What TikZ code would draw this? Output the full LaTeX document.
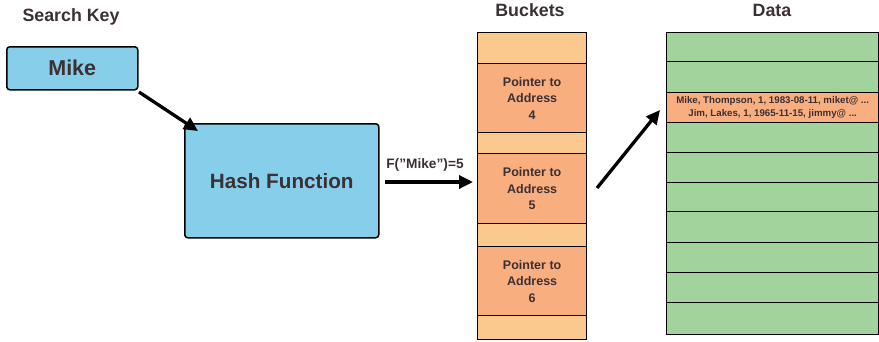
\documentclass[tikz,border=0pt]{standalone}
\usepackage{fontspec}
\setmainfont{Liberation Sans}
\usetikzlibrary{arrows.meta}
\definecolor{txt}{HTML}{3B3034}
\definecolor{skyb}{HTML}{87CEEB}
\definecolor{lorange}{HTML}{FBC98E}
\definecolor{salmon}{HTML}{F9AE80}
\definecolor{lgreen}{HTML}{A2D39C}
\begin{document}
\begin{tikzpicture}[x=1pt,y=-1pt,
  title/.style={font=\bfseries\fontsize{17.8}{20}\selectfont, text=txt},
  bluebox/.style={draw=black, line width=1.5pt, rounded corners=3pt, fill=skyb, anchor=north west, inner sep=0pt},
  cell/.style={draw=black, line width=1.3pt, anchor=north west, inner sep=0pt, minimum width=#1},
  bslot/.style={cell=109pt, fill=lorange},
  bptr/.style={cell=109pt, fill=salmon, align=center, text=txt, font=\bfseries\fontsize{12.5}{16.5}\selectfont},
  drow/.style={cell=212pt, fill=lgreen},
  dhit/.style={cell=212pt, fill=salmon, align=center, text=txt, font=\bfseries\fontsize{9.7}{12.5}\selectfont},
  bigarrow/.style={line width=3.3pt, -{Triangle[length=14pt,width=13pt]}}
]
\useasboundingbox (0,0) rectangle (879,341);

% titles
\node[title] (tkey) at (71,17) {Search Key};
\node[title] (tbuck) at (530,10) {Buckets};
\node[title] (tdata) at (772,10) {Data};

% search key box
\node[bluebox, minimum width=131pt, minimum height=43pt, font=\bfseries\fontsize{21.5}{24}\selectfont, text=txt] (mike) at (6,46) {Mike};

% hash function
\node[bluebox, minimum width=194pt, minimum height=114pt, font=\bfseries\fontsize{20.7}{24}\selectfont, text=txt] (hash) at (184,123) {Hash Function};

% buckets
\node[bslot, minimum height=31pt] (b0) at (477,32) {};
\node[bptr, minimum height=69pt] (b4) at (477,63) {Pointer to\\Address\\4};
\node[bslot, minimum height=21pt] (b1) at (477,132) {};
\node[bptr, minimum height=70pt] (b5) at (477,153) {Pointer to\\Address\\5};
\node[bslot, minimum height=23pt] (b2) at (477,223) {};
\node[bptr, minimum height=69pt] (b6) at (477,246) {Pointer to\\Address\\6};
\node[bslot, minimum height=24pt] (b3) at (477,315) {};

% data
\node[drow, minimum height=29pt] (d0) at (666,32) {};
\node[drow, minimum height=31pt] (d1) at (666,61) {};
\node[dhit, minimum height=30pt] (d2) at (666,92) {Mike, Thompson, 1, 1983-08-11, miket@ ...\\Jim, Lakes, 1, 1965-11-15, jimmy@ ...};
\node[drow, minimum height=30pt] (d3) at (666,122) {};
\node[drow, minimum height=30pt] (d4) at (666,152) {};
\node[drow, minimum height=29pt] (d5) at (666,182) {};
\node[drow, minimum height=31pt] (d6) at (666,211) {};
\node[drow, minimum height=30pt] (d7) at (666,242) {};
\node[drow, minimum height=30pt] (d8) at (666,272) {};
\node[drow, minimum height=32pt] (d9) at (666,302) {};

% arrows
\coordinate (m1) at (139,92);
\coordinate (h1) at (198,131);
\draw[bigarrow] (m1) -- (h1);

\coordinate (f0) at (385,182);
\coordinate (f1) at (473,182);
\draw[bigarrow] (f0) -- (f1);
\node[font=\bfseries\fontsize{13.7}{15}\selectfont, text=txt] (flab) at (425,165) {F(”Mike”)=5};

\coordinate (p0) at (597,188);
\coordinate (p1) at (660,110);
\draw[bigarrow] (p0) -- (p1);
\end{tikzpicture}
\end{document}
